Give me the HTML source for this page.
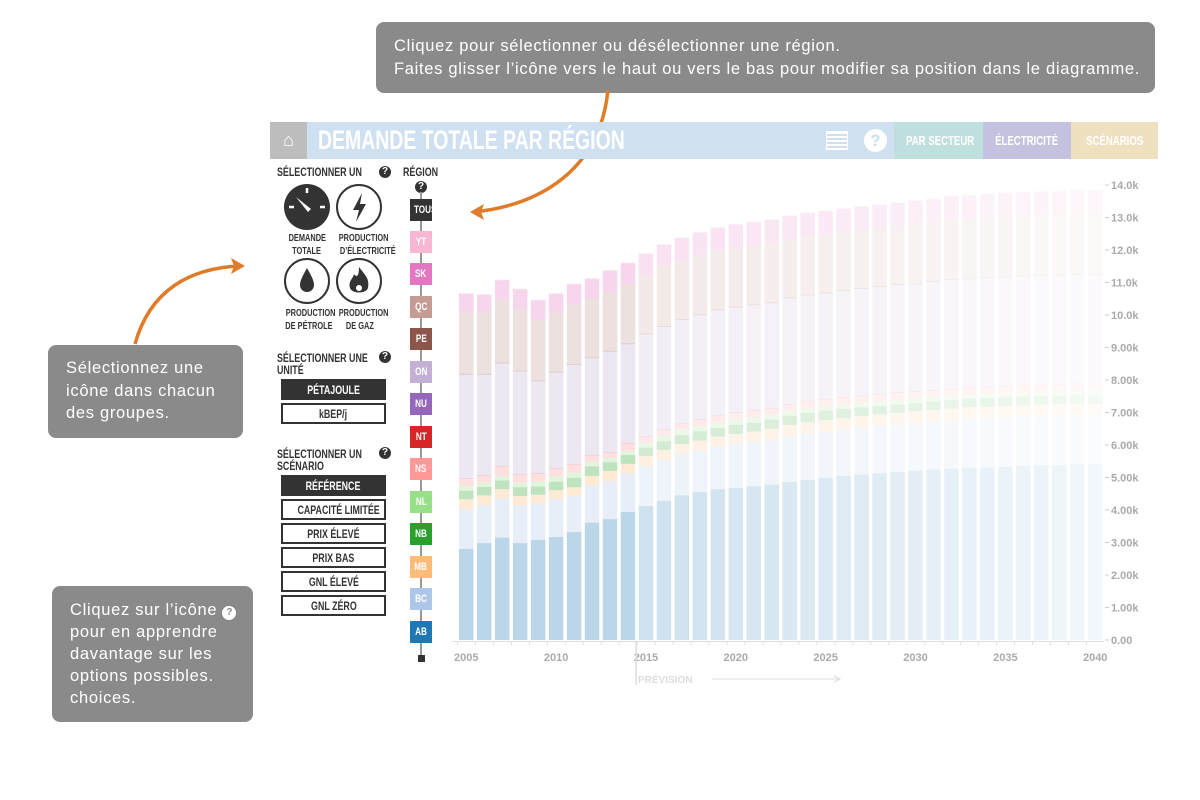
<!DOCTYPE html>
<html><head><meta charset="utf-8">
<style>
body{margin:0;width:1200px;height:800px;background:#fff;position:relative;overflow:hidden;font-family:"Liberation Sans",sans-serif;}
.abs{position:absolute}
.callout{position:absolute;background:#8a8a8a;border-radius:8px;color:#fff;font-family:"Liberation Sans",sans-serif;font-size:16.5px;letter-spacing:0.7px;line-height:22.5px;box-sizing:border-box;white-space:nowrap}
.hdr{position:absolute;left:270px;top:122px;width:888px;height:37px;background:#cfe0f0}
.c{display:inline-block;transform:scaleX(0.74);white-space:nowrap}
.cl{transform-origin:0 50%}
.tab{position:absolute;top:0;height:37px;line-height:37px;text-align:center;color:#fff;font-weight:bold;font-size:13px}
.lbl{position:absolute;font-weight:bold;font-size:12px;color:#333;line-height:12px;white-space:nowrap}
.btn{position:absolute;left:281px;width:105px;height:21px;box-sizing:border-box;border:2px solid #333;text-align:center;font-weight:bold;font-size:12px;line-height:18px;color:#333;background:#fff;white-space:nowrap}
.btn.on{background:#333;color:#fff}
.reg{position:absolute;left:410px;width:22px;height:22px;color:#fff;font-weight:bold;font-size:11px;line-height:22px;text-align:center;white-space:nowrap}
.q{display:inline-block;width:12px;height:12px;border-radius:50%;background:#333;color:#fff;font-size:10px;line-height:12px;text-align:center;font-weight:bold;font-family:"Liberation Sans",sans-serif}
.ic{position:absolute;font-weight:bold;font-size:10px;color:#333;text-align:center;line-height:13px;width:60px;white-space:nowrap}
</style></head><body>

<div class="callout" style="left:376px;top:22px;width:779px;height:71px;padding:13px 0 0 18px">Cliquez pour sélectionner ou désélectionner une région.<br>Faites glisser l’icône vers le haut ou vers le bas pour modifier sa position dans le diagramme.</div>
<div class="callout" style="left:48px;top:345px;width:195px;height:93px;padding:12px 0 0 18px">Sélectionnez une<br>icône dans chacun<br>des groupes.</div>
<div class="callout" style="left:52px;top:586px;width:201px;height:136px;padding:13px 0 0 18px;line-height:22px">Cliquez sur l’icône <span class="q" style="background:#fff;color:#8a8a8a;width:14px;height:14px;line-height:14px;letter-spacing:0">?</span><br>pour en apprendre<br>davantage sur les<br>options possibles.<br>choices.</div>

<svg class="abs" style="left:0;top:0" width="1200" height="800">
<path d="M608,90 C600,170 540,205 474,212" fill="none" stroke="#e07b28" stroke-width="3.5"/>
<path d="M470,212 L484,204 L481,212 L484,220 Z" fill="#e07b28"/>
<path d="M135,344 C150,290 190,268 240,266" fill="none" stroke="#e07b28" stroke-width="3.5"/>
<path d="M245,266 L231,258 L234,266 L231,274 Z" fill="#e07b28"/>
</svg>

<div class="hdr">
 <div class="abs" style="left:0;top:0;width:37px;height:37px;background:#bdbdbd;color:#fff;text-align:center;line-height:37px;font-size:18px">⌂</div>
 <div class="abs" style="left:48px;top:0;line-height:37px;color:#fff;font-weight:bold;font-size:27px"><span class="c cl" style="transform:scaleX(0.72)">DEMANDE TOTALE PAR RÉGION</span></div>
 <div class="abs" style="left:556px;top:9px;width:22px;height:19px;background:repeating-linear-gradient(#fff 0 2px,#cfe0f0 2px 4px);border:1px solid #fff;box-sizing:border-box"></div>
 <div class="abs" style="left:594px;top:7px;width:23px;height:23px;border-radius:50%;background:#fff;color:#cfe0f0;text-align:center;line-height:23px;font-weight:bold;font-size:17px">?</div>
 <div class="tab" style="left:624px;width:89px;background:#c0dfdf"><span class="c">PAR SECTEUR</span></div>
 <div class="tab" style="left:713px;width:88px;background:#c3c3e0"><span class="c">ÉLECTRICITÉ</span></div>
 <div class="tab" style="left:801px;width:87px;background:#efe0c0"><span class="c">SCÉNARIOS</span></div>
</div>

<div class="lbl" style="left:277px;top:166px"><span class="c cl">SÉLECTIONNER UN</span></div>
<span class="q abs" style="left:379px;top:166px">?</span>
<svg class="abs" style="left:280px;top:180px" width="110" height="130">
 <g><circle cx="27" cy="27" r="23" fill="#333"/><line x1="27" y1="8" x2="27" y2="13" stroke="#fff" stroke-width="2.5"/><line x1="9" y1="27" x2="14" y2="27" stroke="#fff" stroke-width="2.5"/><line x1="40" y1="27" x2="45" y2="27" stroke="#fff" stroke-width="2.5"/><path d="M16,17 L31,29 L28,32 Z" fill="#fff"/></g>
 <g><circle cx="79" cy="27" r="22" fill="#fff" stroke="#333" stroke-width="2"/><path d="M82,13 L73,30 L79,30 L76,42 L86,24 L80,24 Z" fill="#333"/></g>
 <g><circle cx="27" cy="101" r="22" fill="#fff" stroke="#333" stroke-width="2"/><path d="M27,88 C22,97 20,101 20,105 A7,7 0 0 0 34,105 C34,101 32,97 27,88 Z" fill="#333"/></g>
 <g><circle cx="79" cy="101" r="22" fill="#fff" stroke="#333" stroke-width="2"/><path d="M79,87 C84,94 90,98 88,108 C86,114 72,114 70,108 C68,101 73,99 74,94 C77,98 79,96 79,87 Z" fill="#333"/><circle cx="79" cy="108" r="3" fill="#fff"/></g>
</svg>
<div class="ic" style="left:277px;top:232px"><span class="c">DEMANDE</span><br><span class="c">TOTALE</span></div>
<div class="ic" style="left:330px;top:232px"><span class="c">PRODUCTION</span><br><span class="c">D’ÉLECTRICITÉ</span></div>
<div class="ic" style="left:277px;top:307px"><span class="c">PRODUCTION</span><br><span class="c">DE PÉTROLE</span></div>
<div class="ic" style="left:330px;top:307px"><span class="c">PRODUCTION</span><br><span class="c">DE GAZ</span></div>

<div class="lbl" style="left:277px;top:352px"><span class="c cl">SÉLECTIONNER UNE</span><br><span class="c cl">UNITÉ</span></div>
<span class="q abs" style="left:379px;top:351px">?</span>
<div class="btn on" style="top:379px"><span class="c">PÉTAJOULE</span></div>
<div class="btn" style="top:403px"><span class="c">kBEP/j</span></div>

<div class="lbl" style="left:277px;top:448px"><span class="c cl">SÉLECTIONNER UN</span><br><span class="c cl">SCÉNARIO</span></div>
<span class="q abs" style="left:379px;top:447px">?</span>
<div class="btn on" style="top:475px"><span class="c">RÉFÉRENCE</span></div>
<div class="btn" style="top:499px"><span class="c">CAPACITÉ LIMITÉE</span></div>
<div class="btn" style="top:523px"><span class="c">PRIX ÉLEVÉ</span></div>
<div class="btn" style="top:547px"><span class="c">PRIX BAS</span></div>
<div class="btn" style="top:571px"><span class="c">GNL ÉLEVÉ</span></div>
<div class="btn" style="top:595px"><span class="c">GNL ZÉRO</span></div>

<div class="lbl" style="left:403px;top:166px"><span class="c cl">RÉGION</span></div>
<span class="q abs" style="left:415px;top:181px">?</span>
<div class="abs" style="left:420px;top:192px;width:2px;height:466px;background:#999"></div>
<div class="abs" style="left:418px;top:655px;width:7px;height:7px;background:#333"></div>
<div id="regions"></div>

<svg id="chart" class="abs" style="left:0;top:0" width="1200" height="800"></svg>

<script>
const years=[];for(let y=2005;y<=2040;y++)years.push(y);
const regionNames=["TOUS","YT","SK","QC","PE","ON","NU","NT","NS","NL","NB","MB","BC","AB"];
const regionColors=["#333333","#f7b6d2","#e377c2","#c49c94","#8c564b","#c5b0d5","#9467bd","#d62728","#ff9896","#98df8a","#2ca02c","#ffbb78","#aec7e8","#1f77b4"];
const AB=[2.80,2.98,3.15,2.98,3.08,3.17,3.32,3.61,3.72,3.94,4.12,4.28,4.45,4.55,4.64,4.68,4.73,4.78,4.86,4.92,4.99,5.05,5.09,5.13,5.17,5.21,5.24,5.27,5.29,5.31,5.33,5.36,5.38,5.38,5.41,5.41];
const BC=[1.22,1.18,1.21,1.17,1.12,1.15,1.11,1.15,1.17,1.19,1.24,1.26,1.28,1.28,1.31,1.36,1.37,1.38,1.42,1.44,1.42,1.44,1.45,1.46,1.46,1.46,1.47,1.50,1.52,1.52,1.53,1.52,1.51,1.53,1.52,1.52];
const MB=[0.31,0.29,0.28,0.28,0.27,0.29,0.27,0.29,0.31,0.29,0.30,0.31,0.30,0.31,0.31,0.30,0.31,0.34,0.34,0.34,0.36,0.34,0.35,0.35,0.36,0.37,0.37,0.35,0.35,0.34,0.33,0.33,0.35,0.34,0.34,0.34];
const NB=[0.26,0.26,0.27,0.27,0.25,0.26,0.29,0.29,0.27,0.27,0.26,0.26,0.27,0.28,0.26,0.28,0.27,0.28,0.28,0.29,0.29,0.28,0.27,0.26,0.25,0.24,0.26,0.26,0.27,0.27,0.28,0.28,0.27,0.27,0.26,0.26];
const NL=[0.15,0.13,0.14,0.14,0.16,0.16,0.16,0.14,0.13,0.13,0.14,0.16,0.17,0.15,0.17,0.16,0.17,0.14,0.14,0.13,0.12,0.13,0.13,0.14,0.13,0.14,0.12,0.13,0.11,0.13,0.12,0.12,0.11,0.11,0.12,0.12];
const NS=[0.22,0.21,0.29,0.24,0.23,0.24,0.25,0.20,0.17,0.22,0.20,0.20,0.17,0.20,0.20,0.21,0.21,0.20,0.20,0.22,0.22,0.22,0.21,0.22,0.23,0.21,0.21,0.20,0.21,0.20,0.21,0.22,0.22,0.22,0.22,0.22];
const NT=[0.01,0.01,0.01,0.01,0.01,0.01,0.01,0.01,0.01,0.01,0.01,0.01,0.01,0.01,0.01,0.01,0.01,0.01,0.01,0.01,0.01,0.01,0.01,0.01,0.01,0.01,0.01,0.01,0.01,0.01,0.01,0.01,0.01,0.01,0.01,0.01];
const NU=[0.01,0.01,0.01,0.01,0.01,0.01,0.01,0.01,0.01,0.01,0.01,0.01,0.01,0.01,0.01,0.01,0.01,0.01,0.01,0.01,0.01,0.01,0.01,0.01,0.01,0.01,0.01,0.01,0.01,0.01,0.01,0.01,0.01,0.01,0.01,0.01];
const ON=[3.18,3.09,3.15,3.16,2.83,2.94,3.04,2.97,3.08,3.04,3.12,3.14,3.19,3.20,3.23,3.22,3.22,3.22,3.25,3.24,3.24,3.26,3.28,3.28,3.30,3.29,3.33,3.35,3.33,3.35,3.34,3.33,3.34,3.34,3.34,3.34];
const PE=[0.03,0.03,0.03,0.03,0.03,0.03,0.03,0.03,0.03,0.03,0.03,0.03,0.03,0.03,0.03,0.03,0.03,0.03,0.03,0.03,0.03,0.03,0.03,0.03,0.03,0.03,0.03,0.03,0.03,0.03,0.03,0.03,0.03,0.03,0.03,0.03];
const QC=[1.92,1.92,1.93,1.90,1.87,1.82,1.83,1.80,1.82,1.81,1.79,1.84,1.78,1.82,1.82,1.81,1.82,1.83,1.80,1.79,1.79,1.79,1.79,1.79,1.80,1.85,1.82,1.82,1.84,1.82,1.84,1.85,1.85,1.86,1.86,1.86];
const SK=[0.54,0.51,0.60,0.60,0.59,0.57,0.62,0.61,0.64,0.65,0.66,0.66,0.71,0.69,0.69,0.71,0.70,0.71,0.71,0.71,0.71,0.70,0.71,0.70,0.70,0.69,0.69,0.72,0.71,0.72,0.72,0.72,0.71,0.70,0.71,0.71];
const YT=[0.02,0.02,0.02,0.02,0.02,0.02,0.02,0.02,0.02,0.02,0.02,0.02,0.02,0.02,0.02,0.02,0.02,0.02,0.02,0.02,0.02,0.02,0.02,0.02,0.02,0.02,0.02,0.02,0.02,0.02,0.02,0.02,0.02,0.02,0.02,0.02];
const yTicks=[0,1,2,3,4,5,6,7,8,9,10,11,12,13,14];
const yTickLabels=["0.00","1.00k","2.00k","3.00k","4.00k","5.00k","6.00k","7.00k","8.00k","9.00k","10.0k","11.0k","12.0k","13.0k","14.0k"];
const xLabelYears=[2005,2010,2015,2020,2025,2030,2035,2040];
const forecastStart=2015;

const series=[["AB",AB],["BC",BC],["MB",MB],["NB",NB],["NL",NL],["NS",NS],["NT",NT],["NU",NU],["ON",ON],["PE",PE],["QC",QC],["SK",SK],["YT",YT]];
const NS_="http://www.w3.org/2000/svg";
const svg=document.getElementById('chart');
const x0=459,pitch=17.97,bw=14.5,yBase=640,pxPer=32.5;
const xs=i=>x0+i*pitch;
const ys=v=>yBase-v*pxPer;
function mk(t,a){const e=document.createElementNS(NS_,t);for(const k in a)e.setAttribute(k,a[k]);svg.appendChild(e);return e;}
function colorOf(n){return regionColors[regionNames.indexOf(n)];}

years.forEach((yr,i)=>{
  let cum=0;
  const op=yr<forecastStart?0.3:Math.max(0.05,0.22-(yr-forecastStart)*0.0064);
  series.forEach(([n,arr])=>{
    const v=arr[i];
    const r=mk('rect',{x:xs(i),y:ys(cum+v),width:bw,height:v*pxPer,fill:colorOf(n),'fill-opacity':op});
    
    
    cum+=v;
  });
});
const ax=mk('line',{x1:452,y1:641.5,x2:1104,y2:641.5,stroke:'#ddd','stroke-width':1});


years.forEach((yr,i)=>{mk('line',{x1:xs(i)-1.5,y1:641,x2:xs(i)-1.5,y2:645,stroke:'#ddd'});});
xLabelYears.forEach(yr=>{
  const i=years.indexOf(yr);
  const t=mk('text',{x:xs(i)+bw/2,y:661,'text-anchor':'middle',fill:'#aaa','font-size':'11','font-weight':'bold','font-family':'Liberation Sans, sans-serif'});
  t.textContent=yr;
  
  
});
yTicks.forEach((v,k)=>{
  mk('line',{x1:1105,y1:ys(v),x2:1109,y2:ys(v),stroke:'#ccc'});
  const t=mk('text',{x:1111,y:ys(v)+4,fill:'#aaa','font-size':'11','font-weight':'bold','font-family':'Liberation Sans, sans-serif'});
  t.textContent=yTickLabels[k];
  
  
});
const fi=years.indexOf(forecastStart);
const dv=mk('line',{x1:xs(fi)-2.5,y1:642,x2:xs(fi)-2.5,y2:685,stroke:'#ddd','stroke-width':1.5});


const pt=mk('text',{x:638,y:683,fill:'#ddd','font-size':'10','font-weight':'bold','font-family':'Liberation Sans, sans-serif'});
pt.textContent='PRÉVISION';


mk('line',{x1:712,y1:679,x2:840,y2:679,stroke:'#ddd'});
mk('path',{d:'M834,676 L840,679 L834,682',fill:'none',stroke:'#ddd'});

const reg=document.getElementById('regions');
const regTops=[199,231,263,296,328,361,393,426,458,491,523,556,588,621];
regionNames.forEach((n,k)=>{
  const d=document.createElement('div');
  d.className='reg';
  d.style.top=regTops[k]+'px';
  d.style.background=regionColors[k];
  d.innerHTML='<span class="c">'+n+'</span>';
  
  
  reg.appendChild(d);
});
</script>
</body></html>
